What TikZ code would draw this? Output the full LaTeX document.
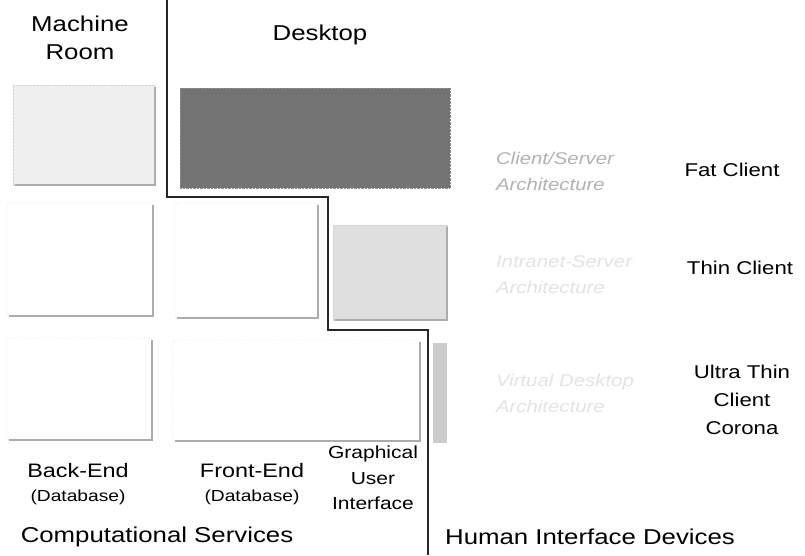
\documentclass[tikz,border=0pt]{standalone}
\usepackage{fontspec}
\setmainfont{Liberation Sans}[FakeStretch=1.2]
\begin{document}
\begin{tikzpicture}[x=1pt,y=-1pt,
  every node/.style={inner sep=0pt,outer sep=0pt},
  panel/.style={anchor=north west,draw=gray!45,densely dotted,rounded corners=3pt,fill=white},
  stipple/.style={anchor=north west,draw=gray!35,densely dotted,fill=#1},
  edge/.style={draw=gray!65,line width=1.4pt},
  divider/.style={draw=black!85,line width=2.6pt,line join=miter},
  bigtxt/.style={font=\fontsize{21.5}{28}\selectfont,align=center,text=black},
  labtxt/.style={font=\fontsize{19.5}{28}\selectfont,align=center,text=black},
  midtxt/.style={font=\fontsize{18.5}{26}\selectfont,align=center,text=black},
  smalltxt/.style={font=\fontsize{16}{25}\selectfont,align=center,text=black},
  archtxt/.style={font=\fontsize{17}{26}\selectfont\itshape,align=left,anchor=west,text=#1}]
\fill[white] (0,0) rectangle (805,555);
\useasboundingbox (0,0) rectangle (805,555);

% row 1
\node[stipple=gray!12,minimum width=142pt,minimum height=100pt] (mr) at (13,85) {};
\node[stipple=black!55,draw=black!45,minimum width=270pt,minimum height=100pt] (fat) at (180,88) {};
% row 2
\node[panel,minimum width=146pt,minimum height=113pt] (be2) at (7,203) {};
\node[panel,minimum width=143pt,minimum height=115pt] (fe2) at (175,203) {};
\node[stipple=gray!25,minimum width=114pt,minimum height=95pt] (gui2) at (333,225) {};
% row 3
\node[panel,minimum width=145pt,minimum height=102pt] (be3) at (7,338) {};
\node[panel,minimum width=247pt,minimum height=101pt] (fe3) at (173,340) {};
\node[stipple=gray!40,draw=none,minimum width=14pt,minimum height=100pt] (strip) at (433,343) {};

\foreach \b in {mr,be2,fe2,gui2,be3,fe3}
  \draw[edge] ([yshift=-2pt]\b.north east) -- (\b.south east) -- ([xshift=2pt]\b.south west);

% divider line
\coordinate (l0) at (167,0);
\coordinate (l1) at (167,197);
\coordinate (l2) at (328,197);
\coordinate (l3) at (328,330);
\coordinate (l4) at (428,330);
\coordinate (l5) at (428,555);
\draw[divider] (l0) -- (l1) -- (l2) -- (l3) -- (l4) -- (l5);

% headings
\node[bigtxt] (machine) at (80,38) {Machine\\Room};
\node[bigtxt] (desktop) at (320,35) {Desktop};

% architecture labels
\node[archtxt=gray!60] (cs) at (496,171) {Client/Server\\Architecture};
\node[archtxt=gray!22] (is) at (496,275) {Intranet-Server\\Architecture};
\node[archtxt=gray!22] (vd) at (496,393) {Virtual Desktop\\Architecture};

\node[midtxt] (fatc) at (732,170) {Fat Client};
\node[midtxt] (thinc) at (740,268) {Thin Client};
\node[midtxt,font=\fontsize{18.5}{28}\selectfont] (ultra) at (742,400) {Ultra Thin\\Client\\Corona};

% bottom labels
\node[labtxt] (beL) at (78,471) {Back-End};
\node[smalltxt] (beD) at (78,497) {(Database)};
\node[labtxt] (feL) at (252,471) {Front-End};
\node[smalltxt] (feD) at (252,497) {(Database)};
\node[smalltxt,font=\fontsize{17.5}{25.5}\selectfont] (gui) at (373,478) {Graphical\\User\\Interface};
\node[bigtxt] (comp) at (157,537) {Computational Services};
\node[bigtxt] (hid) at (590,537) {Human Interface Devices};
\end{tikzpicture}
\end{document}
